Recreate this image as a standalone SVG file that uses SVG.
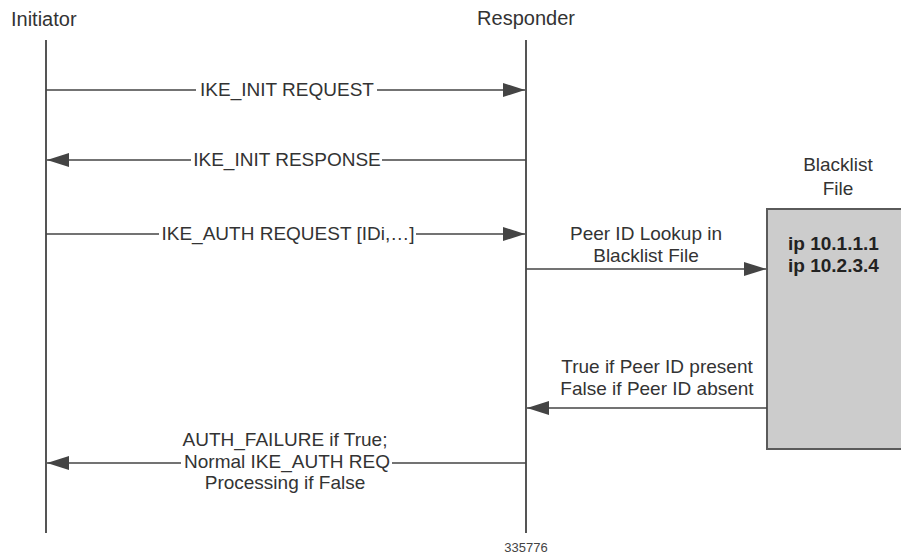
<svg xmlns="http://www.w3.org/2000/svg" width="901" height="554" viewBox="0 0 901 554">
<style>
text{font-family:"Liberation Sans",Arial,sans-serif;font-size:19px;fill:#333;}
.c{text-anchor:middle;}
.t{font-size:20px;}
.b{font-weight:bold;fill:#222;}
.life{stroke:#555;stroke-width:2;fill:none;}
.msg{stroke:#444;stroke-width:1.6;fill:none;}
.ar{marker-end:url(#ah);}
</style>
<defs>
<marker id="ah" markerUnits="userSpaceOnUse" markerWidth="22" markerHeight="14" refX="22" refY="7" orient="auto">
<path d="M0,0 L22,7 L0,14 z" fill="#444"/>
</marker>
</defs>
<g id="initiator">
<text class="t" x="11" y="26">Initiator</text>
<line class="life" x1="46" y1="40" x2="46" y2="533"/>
</g>
<g id="responder">
<text class="c t" x="526" y="25">Responder</text>
<line class="life" x1="526" y1="40" x2="526" y2="533"/>
</g>
<g id="blacklist">
<text class="c" x="838" y="171">Blacklist</text>
<text class="c" x="838" y="195">File</text>
<rect x="767" y="209" width="150" height="240" fill="#cccccc" stroke="#5a5a5a" stroke-width="2"/>
<text class="b" x="788" y="250">ip 10.1.1.1</text>
<text class="b" x="788" y="272">ip 10.2.3.4</text>
</g>
<g id="connectors">
<line class="msg" x1="46" y1="90" x2="196" y2="90"/>
<line class="msg ar" x1="377" y1="90" x2="525" y2="90"/>
<text class="c" x="287" y="96">IKE_INIT REQUEST</text>

<line class="msg" x1="526" y1="160" x2="382" y2="160"/>
<line class="msg ar" x1="191" y1="160" x2="47" y2="160"/>
<text class="c" x="287" y="166">IKE_INIT RESPONSE</text>

<line class="msg" x1="46" y1="234" x2="159" y2="234"/>
<line class="msg ar" x1="416" y1="234" x2="525" y2="234"/>
<text class="c" x="288" y="240">IKE_AUTH REQUEST [IDi,…]</text>

<line class="msg ar" x1="526" y1="269" x2="766" y2="269"/>
<text class="c" x="646" y="240">Peer ID Lookup in</text>
<text class="c" x="646" y="262">Blacklist File</text>

<line class="msg ar" x1="767" y1="408" x2="527" y2="408"/>
<text class="c" x="657" y="373">True if Peer ID present</text>
<text class="c" x="657" y="395">False if Peer ID absent</text>

<line class="msg" x1="526" y1="463" x2="392" y2="463"/>
<line class="msg ar" x1="181" y1="463" x2="47" y2="463"/>
<text class="c" x="285" y="446">AUTH_FAILURE if True;</text>
<text class="c" x="287" y="468">Normal IKE_AUTH REQ</text>
<text class="c" x="285" y="489">Processing if False</text>
</g>
<text class="c" x="526" y="552" style="font-size:13px;fill:#444">335776</text>
</svg>
